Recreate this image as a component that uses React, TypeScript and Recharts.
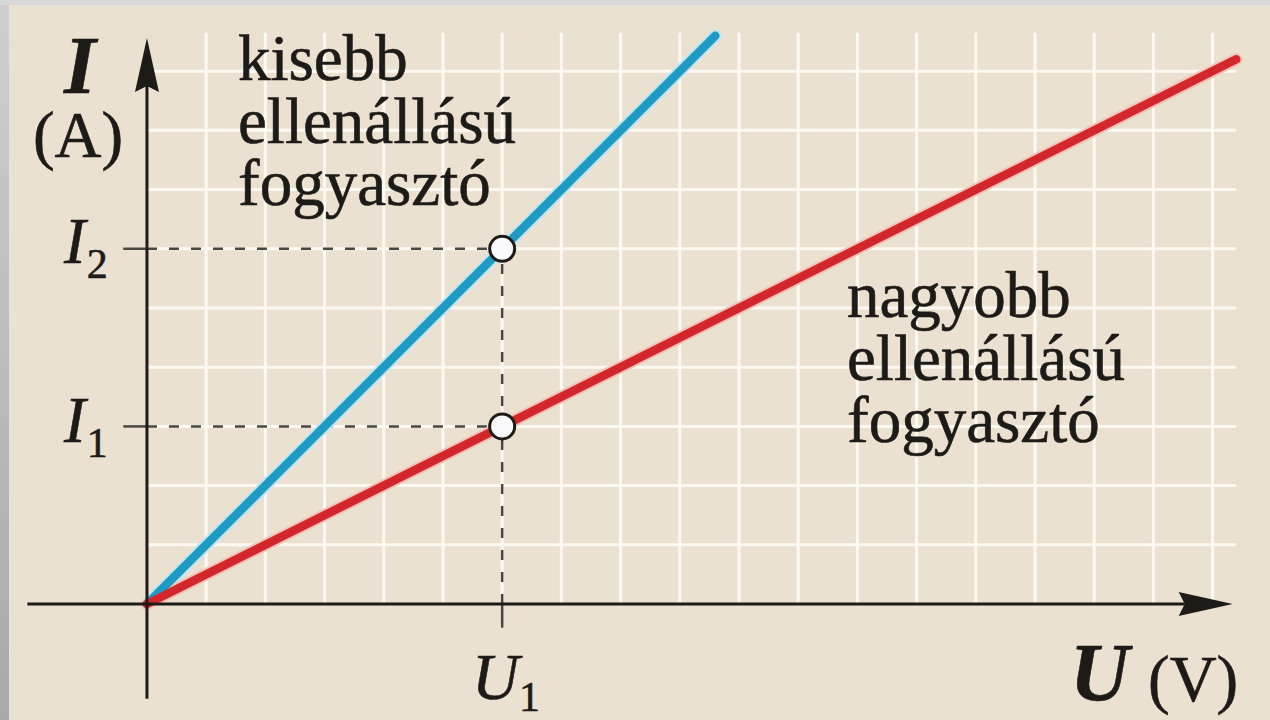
import { LineChart, Line, XAxis, YAxis, ReferenceLine, ReferenceDot } from "recharts";

// grid and domain (U in V, I in A – arbitrary units)
const gridU = [1, 2, 3, 4, 5, 6, 7, 8, 9, 10, 11, 12, 13, 14, 15, 16, 17, 18];
const gridI = [1, 2, 3, 4, 5, 6, 7, 8, 9];
const gridMaxU = 18.4;
const gridMaxI = 9.65;
const domainU = [-2.05, 18.6];
const domainI = [-1.65, 9.8];
const axisU = [-2.02, 18.34];
const axisI = [-1.6, 9.56];

// the two consumers
const smallerResistance = [
  { u: 0, i: 0 },
  { u: 9.6, i: 9.6 },
];
const largerResistance = [
  { u: 0, i: 0 },
  { u: 18.4, i: 9.2 },
];

// the marked operating points
const U1 = 6;
const I1 = 3;
const I2 = 6;
const stub = 0.4;

const smallerLabel = ["kisebb", "ellenállású", "fogyasztó"];
const largerLabel = ["nagyobb", "ellenállású", "fogyasztó"];

const W = 1270;
const H = 720;
const serif = "'Liberation Serif', 'Times New Roman', serif";
const ink = "#1d1b18";
const dashColor = "#4a4743";

const ArrowLine = (props: any) => {
  const { x1, y1, x2, y2 } = props;
  const len = Math.hypot(x2 - x1, y2 - y1) || 1;
  const ux = (x2 - x1) / len;
  const uy = (y2 - y1) / len;
  const head = 54;
  const half = 12;
  const bx = x2 - ux * head;
  const by = y2 - uy * head;
  const px = -uy;
  const py = ux;
  return (
    <g>
      <line x1={x1} y1={y1} x2={bx + ux * 6} y2={by + uy * 6} stroke={ink} strokeWidth={3} />
      <polygon
        points={`${x2},${y2} ${bx + px * half},${by + py * half} ${bx + ux * 6},${by + uy * 6} ${bx - px * half},${by - py * half}`}
        fill={ink}
      />
    </g>
  );
};

export default function App() {
  return (
    <div
      style={{
        position: "fixed",
        left: 0,
        top: 0,
        width: W,
        height: H,
        background: "#ebe1d1",
        overflow: "hidden",
      }}
    >
      <div style={{ position: "absolute", left: 0, top: 0, width: 9, height: H, background: "linear-gradient(#cfcfcf, #a9a9a9)" }} />
      <div style={{ position: "absolute", left: 0, top: 0, width: W, height: 5, background: "#d8d8d8" }} />
      <div style={{ position: "absolute", left: 0, top: 0 }}>
        <LineChart
          width={W}
          height={H}
          margin={{ top: 23.8, right: 21.9, bottom: 18.3, left: 25.6 }}
        >
          <XAxis type="number" dataKey="u" domain={domainU} hide allowDataOverflow />
          <YAxis type="number" dataKey="i" domain={domainI} hide allowDataOverflow />

          {gridU.map((u) => (
            <ReferenceLine
              key={`gu${u}`}
              segment={[{ x: u, y: 0 }, { x: u, y: gridMaxI }]}
              stroke="#fcf9f3"
              strokeWidth={3}
            />
          ))}
          {gridI.map((i) => (
            <ReferenceLine
              key={`gi${i}`}
              segment={[{ x: 0, y: i }, { x: gridMaxU, y: i }]}
              stroke="#fcf9f3"
              strokeWidth={3}
            />
          ))}

          {/* dashed guides */}
          <ReferenceLine segment={[{ x: 0, y: I2 }, { x: U1, y: I2 }]} stroke={dashColor} strokeWidth={2.5} strokeDasharray="10 12" />
          <ReferenceLine segment={[{ x: 0, y: I1 }, { x: U1, y: I1 }]} stroke={dashColor} strokeWidth={2.5} strokeDasharray="10 12" />
          <ReferenceLine segment={[{ x: U1, y: 0 }, { x: U1, y: I2 }]} stroke={dashColor} strokeWidth={2.5} strokeDasharray="10 12" />
          <ReferenceLine segment={[{ x: -stub, y: I2 }, { x: 0, y: I2 }]} stroke={dashColor} strokeWidth={2.5} />
          <ReferenceLine segment={[{ x: -stub, y: I1 }, { x: 0, y: I1 }]} stroke={dashColor} strokeWidth={2.5} />
          <ReferenceLine segment={[{ x: U1, y: -stub }, { x: U1, y: 0 }]} stroke={dashColor} strokeWidth={2.5} />

          {/* halos */}
          <Line data={smallerResistance} dataKey="i" stroke="#bfe6f1" strokeWidth={12.5} strokeLinecap="round" dot={false} activeDot={false} isAnimationActive={false} />
          <Line data={largerResistance} dataKey="i" stroke="#f2c2b8" strokeWidth={12.5} strokeLinecap="round" dot={false} activeDot={false} isAnimationActive={false} />
          <Line data={smallerResistance} dataKey="i" stroke="#1f9bc3" strokeWidth={8.5} strokeLinecap="round" dot={false} activeDot={false} isAnimationActive={false} />
          <Line data={largerResistance} dataKey="i" stroke="#d3272c" strokeWidth={8.5} strokeLinecap="round" dot={false} activeDot={false} isAnimationActive={false} />

          {/* axes with arrows */}
          <ReferenceLine segment={[{ x: axisU[0], y: 0 }, { x: axisU[1], y: 0 }]} shape={ArrowLine} />
          <ReferenceLine segment={[{ x: 0, y: axisI[0] }, { x: 0, y: axisI[1] }]} shape={ArrowLine} />

          <ReferenceDot x={U1} y={I2} r={12.5} fill="#fafafd" stroke={ink} strokeWidth={3} />
          <ReferenceDot x={U1} y={I1} r={12.5} fill="#fafafd" stroke={ink} strokeWidth={3} />
        </LineChart>
      </div>

      <svg
        width={W}
        height={H}
        style={{ position: "absolute", left: 0, top: 0, pointerEvents: "none" }}
        fontFamily={serif}
        fill={ink}
        stroke={ink}
        strokeWidth={0.6}
      >
        <text x={80} y={93} fontSize={82} fontWeight="bold" fontStyle="italic" textAnchor="middle">I</text>
        <text x={78} y={157} fontSize={65} textAnchor="middle">(A)</text>

        <text x={64} y={263} fontSize={65} fontStyle="italic">
          I<tspan fontSize={42} fontStyle="normal" dx={1} dy={15}>2</tspan>
        </text>
        <text x={64} y={442} fontSize={65} fontStyle="italic">
          I<tspan fontSize={42} fontStyle="normal" dx={1} dy={15}>1</tspan>
        </text>
        <text x={472} y={699} fontSize={65} fontStyle="italic">
          U<tspan fontSize={42} fontStyle="normal" dx={0} dy={12}>1</tspan>
        </text>

        <text x={1070} y={700} fontSize={82} fontWeight="bold" fontStyle="italic">U</text>
        <text x={1148} y={701} fontSize={65}>(V)</text>

        {smallerLabel.map((s, k) => (
          <text key={`s${k}`} x={238} y={80 + k * 62.5} fontSize={65}>{s}</text>
        ))}
        {largerLabel.map((s, k) => (
          <text key={`l${k}`} x={847} y={317 + k * 62.5} fontSize={65}>{s}</text>
        ))}
      </svg>
    </div>
  );
}
